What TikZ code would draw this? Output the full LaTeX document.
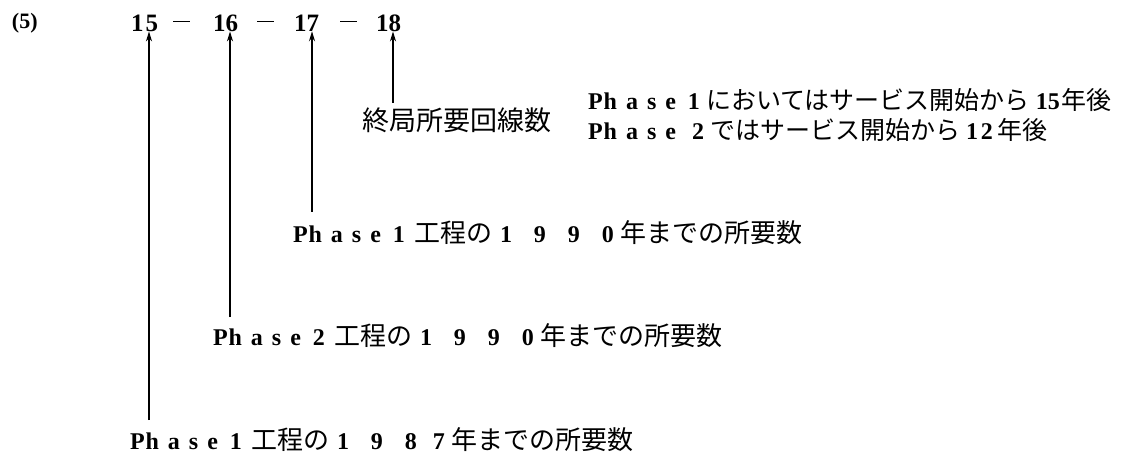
\documentclass[tikz,border=0pt]{standalone}
\usepackage{fontspec}
\setmainfont{Liberation Serif}
\newfontfamily\jp{Noto Sans CJK JP}
\usetikzlibrary{arrows.meta}
\newcommand\myphase{P\kern1pt h\kern9pt a\kern9pt s\kern9pt e}
\newcommand\sepdash{\rule[0.3em]{17pt}{1.3pt}}
\newcommand\jpb[1]{{\jp\mdseries\fontsize{26}{30}\selectfont #1}}
\newcommand\jps[1]{{\jp\mdseries\fontsize{25}{28}\selectfont #1}}
\begin{document}
\begin{tikzpicture}[x=1pt,y=-1pt,
  every node/.style={inner sep=0pt,outer sep=0pt},
  lab/.style={anchor=west,font=\fontsize{24}{28}\selectfont\bfseries},
  num/.style={anchor=west,font=\fontsize{25}{28}\selectfont\bfseries},
  arr/.style={line width=1.4pt,-{Stealth[length=10pt,width=6pt]}}]
\useasboundingbox (0,0) rectangle (1140,457);
\fill[white] (0,0) rectangle (1140,457);
% top row
\node[anchor=west,font=\fontsize{22}{24}\selectfont\bfseries] (p5) at (12,23) {(5)};
\node[num] (n15) at (131,23) {1\kern2pt 5};
\node[anchor=west] (d1) at (173,23) {\sepdash};
\node[num] (n16) at (213,23) {16};
\node[anchor=west] (d2) at (257,23) {\sepdash};
\node[num] (n17) at (294,23) {17};
\node[anchor=west] (d3) at (340,23) {\sepdash};
\node[num] (n18) at (376,23) {18};
% labels
\node[anchor=west] (fin) at (362,120) {\jp\fontsize{27}{30}\selectfont 終局所要回線数};
\node[lab] (r1) at (588,100) {\myphase\kern12pt 1\kern6pt\jps{においてはサービス開始から}\kern6pt 15\kern2pt\jps{年後}};
\node[lab] (r2) at (588,130) {\myphase\kern16pt 2\kern6pt\jps{ではサービス開始から}\kern6pt 1\kern3pt 2\kern4pt\jps{年後}};
\node[lab] (l3) at (293,233) {\myphase\kern12pt 1\kern9pt\jpb{工程の}\kern8pt 1\kern22pt 9\kern22pt 9\kern22pt 0\kern6pt\jpb{年までの所要数}};
\node[lab] (l2) at (213,336) {\myphase\kern12pt 2\kern9pt\jpb{工程の}\kern8pt 1\kern22pt 9\kern22pt 9\kern22pt 0\kern6pt\jpb{年までの所要数}};
\node[lab] (l1) at (130,440) {\myphase\kern12pt 1\kern9pt\jpb{工程の}\kern8pt 1\kern22pt 9\kern22pt 8\kern16pt 7\kern6pt\jpb{年までの所要数}};
% arrow bases
\coordinate (b1) at (149,420);
\coordinate (b2) at (230,317);
\coordinate (b3) at (312,212);
\coordinate (b4) at (393,103);
\draw[arr] (b1) -- (b1 |- n15.south);
\draw[arr] (b2) -- (b2 |- n16.south);
\draw[arr] (b3) -- (b3 |- n17.south);
\draw[arr] (b4) -- (b4 |- n18.south);
\end{tikzpicture}
\end{document}
